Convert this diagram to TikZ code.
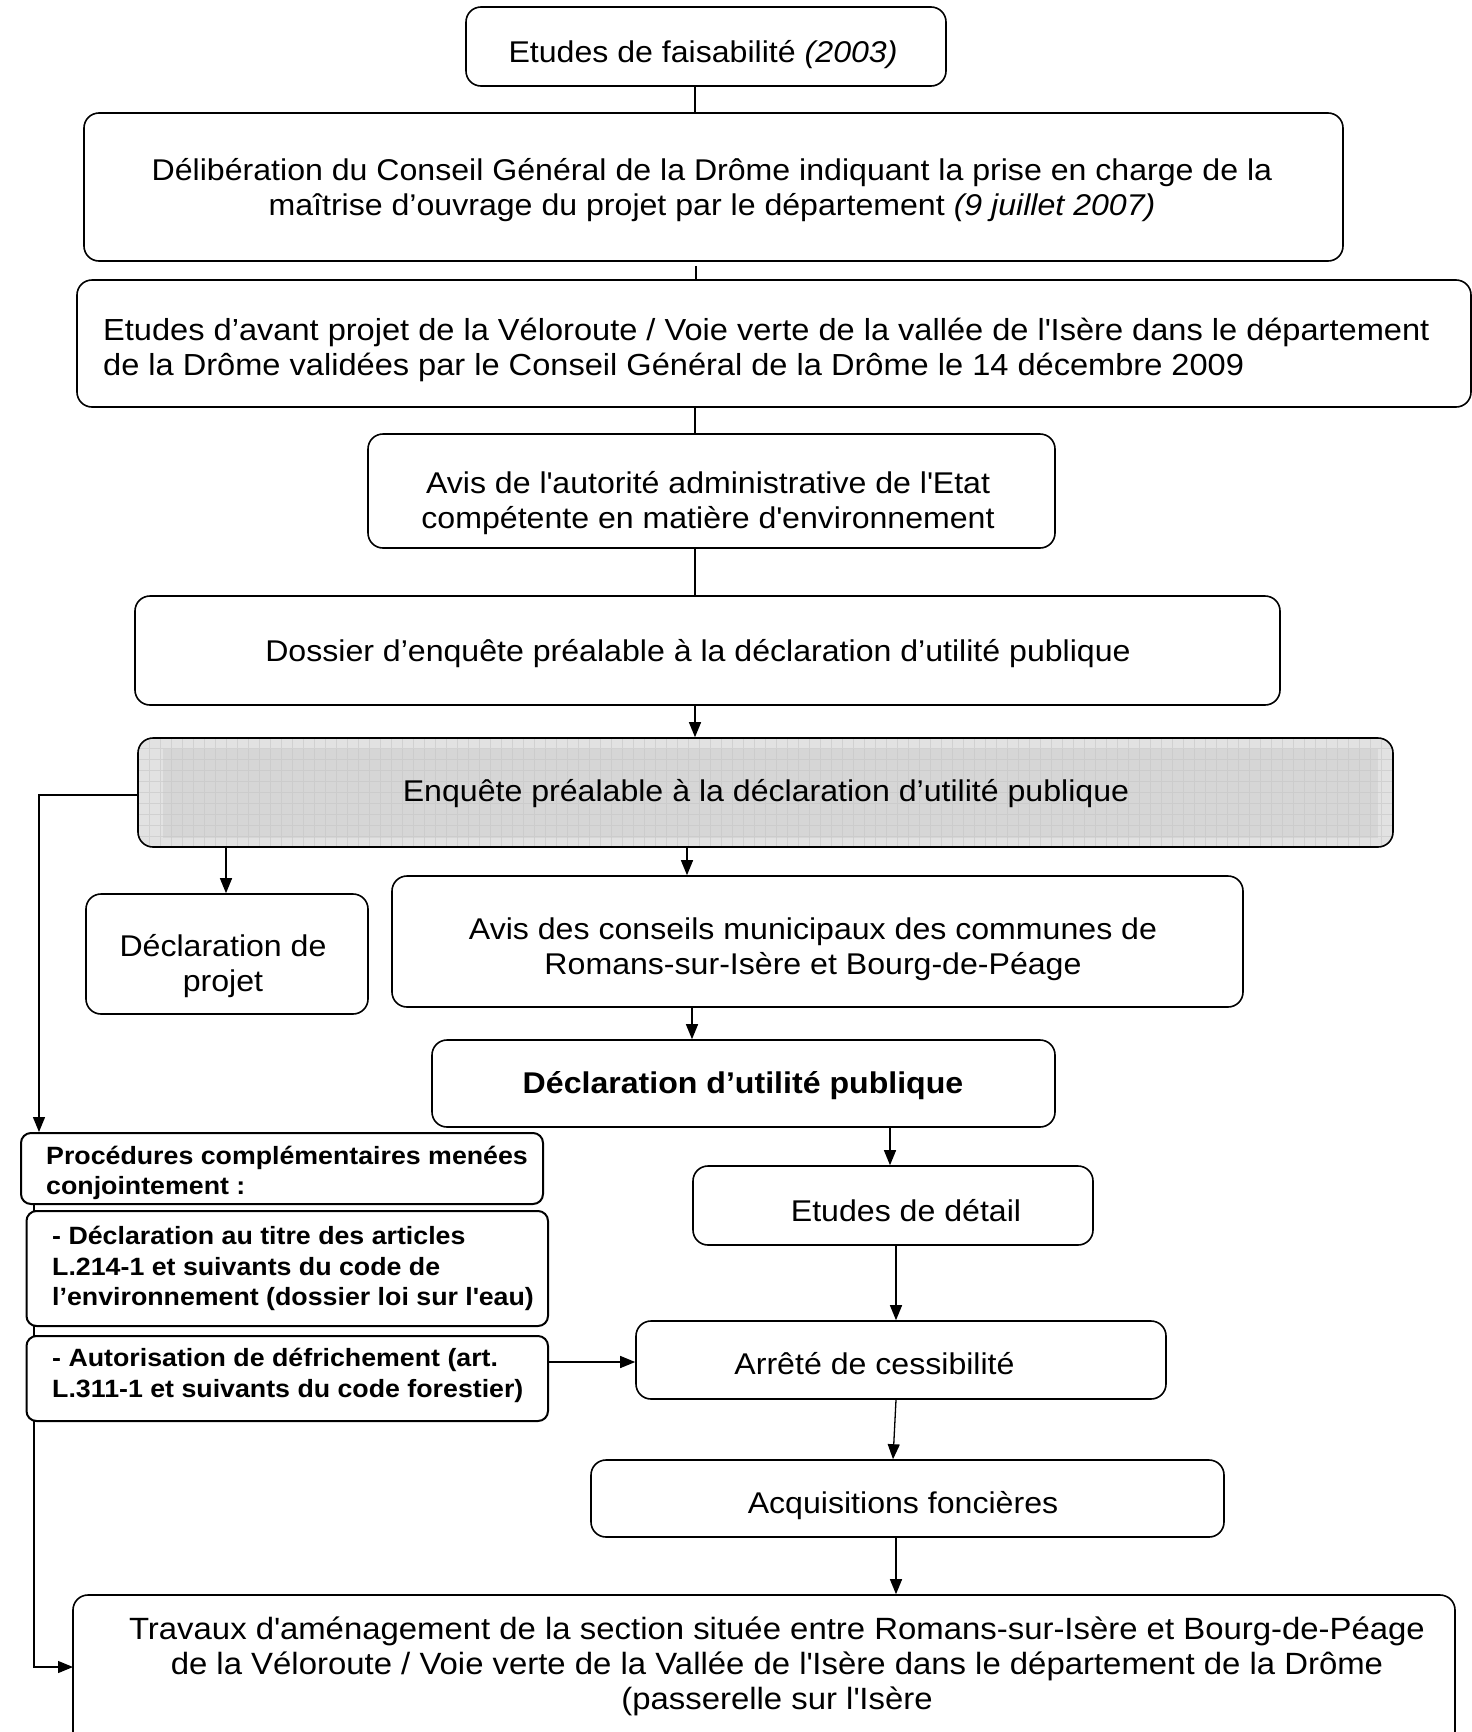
\documentclass[tikz,border=0pt]{standalone}
\usepackage{fontspec}
\setmainfont{Liberation Sans}[FakeStretch=1.07]
\usetikzlibrary{arrows.meta}
\newcommand\fbig{\fontsize{30}{35}\selectfont}
\newcommand\fsmall{\fontsize{25}{30.5}\selectfont\bfseries}
\newcommand\sq{\textquotesingle}
\begin{document}
\begin{tikzpicture}[x=1pt,y=-1pt,
  box/.style={draw, line width=1.6pt, rounded corners=15pt, fill=white, inner sep=0pt},
  sbox/.style={draw, line width=2pt, rounded corners=10pt, fill=white, inner sep=0pt},
  graybox/.style={box, fill=gray!23, path picture={
     \fill[gray!32, sharp corners] ([xshift=25pt,yshift=-11pt]path picture bounding box.north west) rectangle ([xshift=-15pt,yshift=9pt]path picture bounding box.south east);
     \draw[gray!45, line width=0.6pt, opacity=0.6, sharp corners, step=11pt] (path picture bounding box.south west) grid (path picture bounding box.north east);}},
  txt/.style={inner sep=0pt, align=center, font=\fbig},
  ltxt/.style={inner sep=0pt, align=left, anchor=west, font=\fsmall},
  conn/.style={line width=1.3pt},
  arr/.style={conn, -{Triangle[length=15pt,width=12pt]}}]
\useasboundingbox (0,0) rectangle (1472,1732);
\clip (0,0) rectangle (1472,1732);
\fill[white] (0,0) rectangle (1472,1732);

% line behind the left boxes
\draw[arr] (34,1204) -- (34,1667) -- (73,1667);

\node[box, minimum width=480pt, minimum height=79pt] (b1) at (706,46.5) {};
\node[txt] (t1) at (703,54.5) {Etudes de faisabilité \textit{(2003)}};
\node[box, minimum width=1259pt, minimum height=148pt] (b2) at (713.5,187) {};
\node[txt] (t2) at (712,190) {Délibération du Conseil Général de la Drôme indiquant la prise en charge de la\\ maîtrise d’ouvrage du projet par le département \textit{(9 juillet 2007)}};
\node[box, minimum width=1394pt, minimum height=127pt] (b3) at (774,343.5) {};
\node[ltxt, font=\fontsize{30.45}{35}\selectfont] (t3) at (103,349.5) {Etudes d’avant projet de la Véloroute / Voie verte de la vallée de l\sq Isère dans le département\\ de la Drôme validées par le Conseil Général de la Drôme le 14 décembre 2009};
\node[box, minimum width=687pt, minimum height=114pt] (b4) at (711.5,491) {};
\node[txt] (t4) at (708,503) {Avis de l\sq autorité administrative de l\sq Etat\\ compétente en matière d\sq environnement};
\node[box, minimum width=1145pt, minimum height=109pt] (b5) at (707.5,650.5) {};
\node[txt] (t5) at (698,653.5) {Dossier d’enquête préalable à la déclaration d’utilité publique};
\node[graybox, minimum width=1255pt, minimum height=109pt] (b6) at (765.5,792.5) {};
\node[txt] (t6) at (766,793.5) {Enquête préalable à la déclaration d’utilité publique};
\node[box, minimum width=282pt, minimum height=120pt] (b7) at (227,954) {};
\node[txt] (t7) at (223,966) {Déclaration de\\ projet};
\node[box, minimum width=851pt, minimum height=131pt] (b8) at (817.5,941.5) {};
\node[txt] (t8) at (813,949.5) {Avis des conseils municipaux des communes de\\ Romans-sur-Isère et Bourg-de-Péage};
\node[box, minimum width=623pt, minimum height=87pt] (b9) at (743.5,1083.5) {};
\node[txt, font=\fbig\bfseries] (t9) at (743,1085.5) {Déclaration d’utilité publique};

\node[sbox, minimum width=522pt, minimum height=71pt] (b10) at (282,1168.5) {};
\node[ltxt] (t10) at (46,1173) {Procédures complémentaires menées\\ conjointement :};
\node[sbox, minimum width=521.5pt, minimum height=115pt] (b11) at (287.25,1268.5) {};
\node[ltxt] (t11) at (52,1268.5) {- Déclaration au titre des articles\\ L.214-1 et suivants du code de\\ l’environnement (dossier loi sur l\sq eau)};
\node[sbox, minimum width=521.5pt, minimum height=85pt] (b12) at (287.25,1378.5) {};
\node[ltxt] (t12) at (52,1375.5) {- Autorisation de défrichement (art.\\ L.311-1 et suivants du code forestier)};

\node[box, minimum width=400pt, minimum height=79pt] (b13) at (893,1205.5) {};
\node[txt] (t13) at (906,1211) {Etudes de détail};
\node[box, minimum width=530pt, minimum height=78pt] (b14) at (901,1360) {};
\node[txt] (t14) at (874.5,1364) {Arrêté de cessibilité};
\node[box, minimum width=633pt, minimum height=77pt] (b15) at (907.5,1498.5) {};
\node[txt] (t15) at (903,1505.5) {Acquisitions foncières};
\node[box, minimum width=1382pt, minimum height=175pt] (b16) at (764,1682.5) {};
\node[txt, font=\fontsize{30.75}{35}\selectfont] (t16) at (777,1666) {Travaux d\sq aménagement de la section située entre Romans-sur-Isère et Bourg-de-Péage\\ de la Véloroute / Voie verte de la Vallée de l\sq Isère dans le département de la Drôme\\ (passerelle sur l\sq Isère};

% connectors
\draw[conn] (695,0 |- b1.south) -- (695,0 |- b2.north);
\draw[conn] (696,0 |- b2.south) ++(0,4) -- (696,0 |- b3.north);
\draw[conn] (695,0 |- b3.south) -- (695,0 |- b4.north);
\draw[conn] (695,0 |- b4.south) -- (695,0 |- b5.north);
\draw[arr] (695,0 |- b5.south) -- (695,0 |- b6.north);
\draw[arr] (226,0 |- b6.south) -- (226,0 |- b7.north);
\draw[arr] (687,0 |- b6.south) -- (687,0 |- b8.north);
\draw[arr] (692,0 |- b8.south) -- (692,0 |- b9.north);
\draw[arr] (890,0 |- b9.south) -- (890,0 |- b13.north);
\draw[arr] (896,0 |- b13.south) -- (896,0 |- b14.north);
\draw[arr] (896,0 |- b14.south) -- (893,0 |- b15.north);
\draw[arr] (896,0 |- b15.south) -- (896,0 |- b16.north);
\draw[arr] (b6.west |- 0,795) -- (39,795) -- (39,0 |- b10.north);
\draw[arr] (b12.east |- 0,1362) -- (b14.west |- 0,1362);
\end{tikzpicture}
\end{document}
